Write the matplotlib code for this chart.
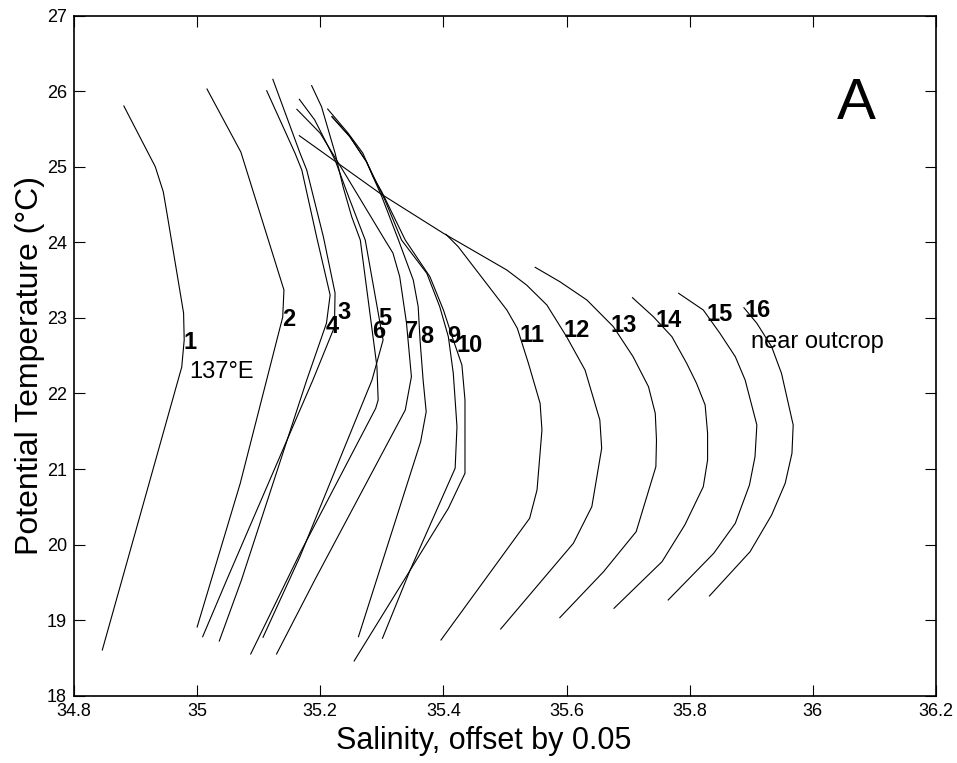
import matplotlib
matplotlib.use("Agg")
import matplotlib.pyplot as plt
from matplotlib.ticker import FormatStrFormatter, FuncFormatter

plt.rcParams["font.family"] = ["Liberation Sans", "DejaVu Sans"]

# Potential temperature / salinity profiles, stations 1-16 (salinity offset by 0.05)
sal_1 = [34.881, 34.932, 34.945, 34.951, 34.978, 34.979, 34.975, 34.846]
temp_1 = [25.805, 25.002, 24.671, 24.385, 23.065, 22.708, 22.350, 18.605]

sal_2 = [35.016, 35.071, 35.141, 35.139, 35.070, 35.000]
temp_2 = [26.030, 25.196, 23.370, 23.012, 20.810, 18.909]

sal_3 = [35.123, 35.167, 35.178, 35.205, 35.224, 35.223, 35.188, 35.048, 35.009]
temp_3 = [26.158, 25.183, 24.958, 24.075, 23.330, 22.880, 22.178, 19.531, 18.781]

sal_4 = [35.113, 35.159, 35.170, 35.194, 35.216, 35.210, 35.178, 35.072, 35.036]
temp_4 = [26.007, 25.180, 24.958, 24.075, 23.303, 22.929, 22.178, 19.531, 18.724]

sal_5 = [35.166, 35.191, 35.224, 35.248, 35.273, 35.297, 35.302, 35.284, 35.167, 35.107]
temp_5 = [25.894, 25.620, 25.090, 24.561, 24.031, 22.933, 22.708, 22.178, 19.840, 18.773]

sal_6 = [35.186, 35.202, 35.224, 35.237, 35.251, 35.265, 35.292, 35.294, 35.290, 35.167, 35.087]
temp_6 = [26.074, 25.796, 25.183, 24.737, 24.340, 24.031, 22.355, 21.914, 21.804, 19.885, 18.552]

sal_7 = [35.162, 35.200, 35.243, 35.305, 35.318, 35.329, 35.340, 35.348, 35.338, 35.191, 35.129]
temp_7 = [25.761, 25.444, 24.869, 24.031, 23.859, 23.546, 22.933, 22.222, 21.781, 19.531, 18.552]

sal_8 = [35.219, 35.248, 35.275, 35.300, 35.327, 35.351, 35.359, 35.362, 35.367,
         35.372, 35.363, 35.262]
temp_8 = [25.663, 25.399, 25.068, 24.604, 24.031, 23.502, 23.149, 22.708, 22.178,
          21.759, 21.362, 18.781]

sal_9 = [35.219, 35.248, 35.275, 35.305, 35.332, 35.373, 35.394, 35.408, 35.416, 35.422,
         35.419, 35.346, 35.301]
temp_9 = [25.663, 25.399, 25.068, 24.561, 24.031, 23.591, 23.149, 22.751, 22.267, 21.561,
          21.010, 19.664, 18.760]

sal_10 = [35.212, 35.245, 35.269, 35.286, 35.300, 35.338, 35.378, 35.400, 35.416, 35.430,
          35.435, 35.435, 35.408, 35.255]
temp_10 = [25.765, 25.448, 25.183, 24.865, 24.667, 24.031, 23.546, 23.105, 22.708, 22.377,
           21.914, 20.944, 20.480, 18.460]

sal_11 = [35.404, 35.424, 35.503, 35.520, 35.538, 35.557, 35.560, 35.552, 35.540, 35.396]
temp_11 = [24.107, 23.943, 23.105, 22.863, 22.400, 21.870, 21.517, 20.723, 20.348, 18.737]

sal_12 = [35.166, 35.297, 35.400, 35.503, 35.535, 35.568, 35.600, 35.630, 35.654, 35.657,
          35.641, 35.611, 35.493]
temp_12 = [25.412, 24.649, 24.120, 23.634, 23.436, 23.171, 22.752, 22.310, 21.649, 21.275,
           20.502, 20.017, 18.883]

sal_13 = [35.549, 35.589, 35.633, 35.676, 35.708, 35.733, 35.744, 35.746, 35.745, 35.713,
          35.660, 35.589]
temp_13 = [23.670, 23.480, 23.237, 22.884, 22.487, 22.090, 21.738, 21.384, 21.031, 20.171,
           19.641, 19.033]

sal_14 = [35.707, 35.741, 35.771, 35.795, 35.811, 35.825, 35.829, 35.829, 35.822, 35.792,
          35.755, 35.677]
temp_14 = [23.268, 23.016, 22.752, 22.400, 22.135, 21.848, 21.473, 21.120, 20.766, 20.260,
           19.774, 19.157]

sal_15 = [35.782, 35.822, 35.849, 35.874, 35.890, 35.909, 35.906, 35.897, 35.874, 35.839,
          35.765]
temp_15 = [23.326, 23.105, 22.797, 22.487, 22.178, 21.583, 21.163, 20.789, 20.282, 19.885,
           19.267]

sal_16 = [35.888, 35.909, 35.933, 35.949, 35.968, 35.966, 35.955, 35.933, 35.898, 35.832]
temp_16 = [23.135, 22.929, 22.619, 22.267, 21.583, 21.208, 20.811, 20.392, 19.906, 19.320]

profiles = [
    (sal_1, temp_1), (sal_2, temp_2), (sal_3, temp_3), (sal_4, temp_4),
    (sal_5, temp_5), (sal_6, temp_6), (sal_7, temp_7), (sal_8, temp_8),
    (sal_9, temp_9), (sal_10, temp_10), (sal_11, temp_11), (sal_12, temp_12),
    (sal_13, temp_13), (sal_14, temp_14), (sal_15, temp_15), (sal_16, temp_16),
]

# station number labels and where they sit
station_names = [str(i) for i in range(1, 17)]
label_sal = [34.988, 35.149, 35.238, 35.219, 35.305, 35.295, 35.349, 35.373,
             35.416, 35.443, 35.544, 35.617, 35.692, 35.766, 35.848, 35.911]
label_temp = [22.681, 22.973, 23.078, 22.893, 22.986, 22.814, 22.827, 22.748,
              22.748, 22.629, 22.774, 22.840, 22.906, 22.972, 23.052, 23.092]

x_ticks = [34.8, 35.0, 35.2, 35.4, 35.6, 35.8, 36.0, 36.2]
y_ticks = [18, 19, 20, 21, 22, 23, 24, 25, 26, 27]


def main():
    fig = plt.figure(figsize=(9.57, 7.63), dpi=100)
    ax = fig.add_axes([0.0773, 0.0882, 0.9008, 0.8912])

    for sal, temp in profiles:
        ax.plot(sal, temp, color="black", linewidth=0.8)

    for name, s, t in zip(station_names, label_sal, label_temp):
        ax.text(s, t, name, fontsize=17, fontweight="bold", ha="center", va="center")

    ax.text(35.04, 22.284, "137°E", fontsize=17, ha="center", va="center")
    ax.text(36.008, 22.681, "near outcrop", fontsize=17, ha="center", va="center")
    ax.text(36.07, 25.83, "A", fontsize=42, ha="center", va="center")

    ax.set_xlim(34.8, 36.2)
    ax.set_ylim(18, 27)
    ax.set_xticks(x_ticks)
    ax.set_yticks(y_ticks)
    ax.xaxis.set_major_formatter(FuncFormatter(lambda v, p: f"{v:g}"))
    ax.yaxis.set_major_formatter(FormatStrFormatter("%d"))
    ax.tick_params(direction="in", length=8, width=0.8, labelsize=13, pad=5,
                   top=True, right=True)
    for sp in ax.spines.values():
        sp.set_linewidth(1.2)

    ax.set_xlabel("Salinity, offset by 0.05", fontsize=22)
    ax.xaxis.label.set_va("center")
    ax.xaxis.set_label_coords(0.475, -0.0666)
    ax.set_ylabel("Potential Temperature (°C)", fontsize=23)
    ax.yaxis.label.set_va("center")
    ax.yaxis.set_label_coords(-0.051, 0.485)

    fig.savefig("out.png", dpi=100)
    plt.close(fig)


if __name__ == "__main__":
    main()
